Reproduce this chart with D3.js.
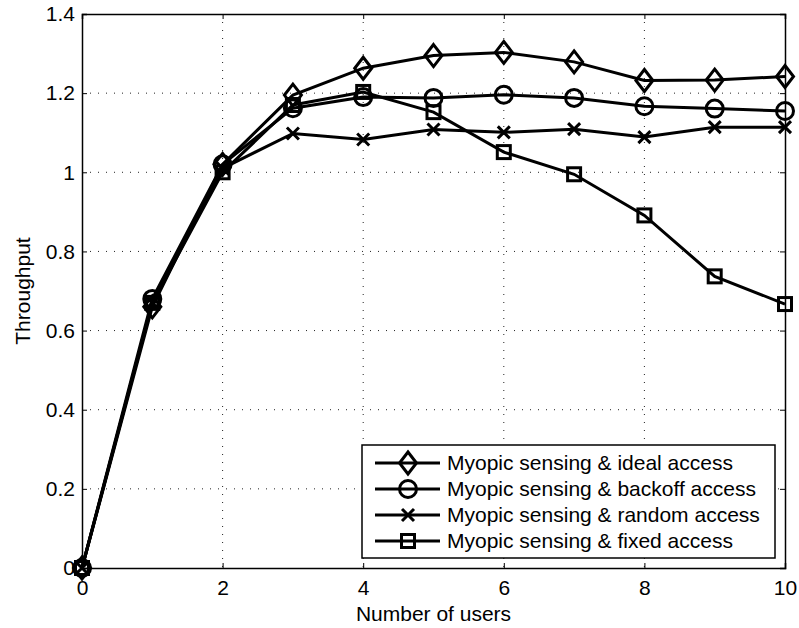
<!DOCTYPE html>
<html>
<head>
<meta charset="utf-8">
<script src="https://cdn.jsdelivr.net/npm/d3@7"></script>
<style>
  body { margin: 0; background: #fff; }
  text { font-family: "Liberation Sans", Arial, sans-serif; }
</style>
</head>
<body>
<div id="chart"></div>
<script>
// data
var users = [0, 1, 2, 3, 4, 5, 6, 7, 8, 9, 10];
var idealAccess   = [0, 0.66, 1.02, 1.195, 1.263, 1.295, 1.303, 1.279, 1.232, 1.233, 1.242];
var backoffAccess = [0, 0.68, 1.02, 1.162, 1.19, 1.188, 1.196, 1.188, 1.167, 1.161, 1.155];
var randomAccess  = [0, 0.67, 1.01, 1.098, 1.083, 1.108, 1.101, 1.109, 1.089, 1.114, 1.114];
var fixedAccess   = [0, 0.67, 1.0, 1.17, 1.203, 1.152, 1.051, 0.995, 0.891, 0.737, 0.667];
var seriesNames = ["Myopic sensing & ideal access", "Myopic sensing & backoff access",
                   "Myopic sensing & random access", "Myopic sensing & fixed access"];
var markerTypes = ["diamond", "circle", "cross", "square"];
var xTicks = [0, 2, 4, 6, 8, 10];
var yTicks = [0, 0.2, 0.4, 0.6, 0.8, 1, 1.2, 1.4];

var width = 799, height = 628;
var margin = {top: 14, right: 14, bottom: 60, left: 82};
var w = width - margin.left - margin.right,
    h = height - margin.top - margin.bottom;
var fontSize = "21px";

var svg = d3.select("#chart").append("svg")
    .attr("width", width)
    .attr("height", height)
  .append("g")
    .attr("transform", "translate(" + margin.left + "," + margin.top + ")");

var x = d3.scaleLinear().domain([0, 10]).range([0, w]);
var y = d3.scaleLinear().domain([0, 1.4]).range([h, 0]);

// dotted grid
svg.append("g").selectAll("line")
  .data(xTicks.slice(1, -1))
  .enter().append("line")
    .attr("x1", d => x(d)).attr("x2", d => x(d))
    .attr("y1", 0).attr("y2", h)
    .attr("stroke", "#222").attr("stroke-width", 1)
    .attr("stroke-dasharray", "1,7");
svg.append("g").selectAll("line")
  .data(yTicks.slice(1, -1))
  .enter().append("line")
    .attr("y1", d => y(d)).attr("y2", d => y(d))
    .attr("x1", 0).attr("x2", w)
    .attr("stroke", "#222").attr("stroke-width", 1)
    .attr("stroke-dasharray", "1,7");

// axes, ticks inward like matlab
svg.append("g")
  .attr("transform", "translate(0," + h + ")")
  .call(d3.axisBottom(x).tickValues(xTicks).tickSize(-5).tickPadding(12).tickFormat(d3.format("d")));
svg.append("g")
  .call(d3.axisLeft(y).tickValues(yTicks).tickSize(-5).tickPadding(7).tickFormat(d => d3.format("")(d)));
svg.append("g")
  .call(d3.axisTop(x).tickValues(xTicks).tickSize(-5).tickFormat(""));
svg.append("g")
  .attr("transform", "translate(" + w + ",0)")
  .call(d3.axisRight(y).tickValues(yTicks).tickSize(-5).tickFormat(""));
svg.selectAll(".domain").attr("stroke", "#000").attr("stroke-width", 1.5);
svg.selectAll(".tick line").attr("stroke", "#000");
svg.selectAll(".tick text").style("font-size", fontSize).attr("fill", "#000");

svg.append("text")
  .attr("text-anchor", "middle")
  .attr("x", w / 2)
  .attr("y", h + 53)
  .style("font-size", fontSize)
  .text("Number of users");
svg.append("text")
  .attr("text-anchor", "middle")
  .attr("transform", "rotate(-90)")
  .attr("x", -h / 2)
  .attr("y", -52)
  .style("font-size", fontSize)
  .text("Throughput");

// markers
function drawMarker(g, type, cx, cy) {
  if (type == "diamond") {
    g.append("path").attr("d", "M" + cx + "," + (cy - 11) + "L" + (cx + 8.5) + "," + cy +
      "L" + cx + "," + (cy + 11) + "L" + (cx - 8.5) + "," + cy + "Z");
  } else if (type == "circle") {
    g.append("circle").attr("cx", cx).attr("cy", cy).attr("r", 8.5);
  } else if (type == "cross") {
    g.append("path").attr("d", "M" + (cx - 6) + "," + (cy - 6) + "L" + (cx + 6) + "," + (cy + 6) +
      "M" + (cx - 6) + "," + (cy + 6) + "L" + (cx + 6) + "," + (cy - 6));
  } else {
    g.append("rect").attr("x", cx - 6.5).attr("y", cy - 6.5).attr("width", 13).attr("height", 13);
  }
}

var allSeries = [idealAccess, backoffAccess, randomAccess, fixedAccess];
var line = d3.line().x((d, i) => x(users[i])).y(d => y(d));

allSeries.forEach(function(vals, k) {
  svg.append("path")
    .datum(vals)
    .attr("d", line)
    .attr("fill", "none")
    .attr("stroke", "#000")
    .attr("stroke-width", 3);
  var mg = svg.append("g").attr("fill", "none").attr("stroke", "#000").attr("stroke-width", 3);
  vals.forEach(function(v, i) { drawMarker(mg, markerTypes[k], x(users[i]), y(v)); });
});

// legend
var lg = svg.append("g").attr("transform", "translate(" + (362 - margin.left) + "," + (445 - margin.top) + ")");
lg.append("rect").attr("width", 413).attr("height", 113)
  .attr("fill", "#fff").attr("stroke", "#000").attr("stroke-width", 1.5);
seriesNames.forEach(function(name, k) {
  var ly = 18 + k * 26;
  lg.append("line").attr("x1", 13).attr("x2", 78).attr("y1", ly).attr("y2", ly)
    .attr("stroke", "#000").attr("stroke-width", 3);
  var mg = lg.append("g").attr("fill", "none").attr("stroke", "#000").attr("stroke-width", 3);
  drawMarker(mg, markerTypes[k], 46, ly);
  lg.append("text").attr("x", 85).attr("y", ly).attr("dy", "0.35em")
    .style("font-size", fontSize).text(name);
});
</script>
</body>
</html>
